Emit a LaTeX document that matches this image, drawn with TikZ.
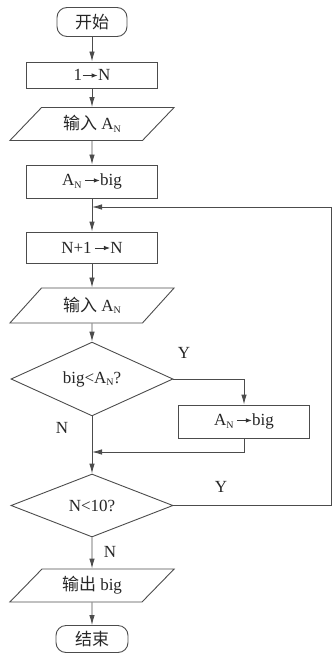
\documentclass[tikz,border=0pt]{standalone}
\usepackage{fontspec}
\setmainfont{Liberation Serif}
\newfontfamily\cjk{Noto Sans CJK SC}
\usetikzlibrary{shapes.geometric,arrows.meta}
\newcommand{\sN}{\raisebox{-0.15em}{\fontsize{10}{10}\selectfont N}}
\newcommand{\ra}{\tikz[baseline={(0pt,-0.3em)}]\draw[black!80, line width=0.8pt, -{Latex[length=6pt,width=4.5pt]}] (0pt,0pt) -- (15pt,0pt);}
\begin{document}
\begin{tikzpicture}[x=1pt,y=-1pt,
  every node/.style={font=\fontsize{17}{19}\selectfont, text=black!85},
  line/.style={draw=black!70, line width=0.9pt},
  arr/.style={line, -{Latex[length=10pt,width=5.5pt]}},
  term/.style={line, rectangle, rounded corners=10pt, minimum width=70pt, minimum height=29pt, inner sep=0pt},
  proc/.style={line, rectangle, minimum width=131pt, minimum height=31pt, inner sep=0pt},
  io/.style={line, trapezium, trapezium left angle=43, trapezium right angle=137, trapezium stretches=true, minimum width=165pt, minimum height=33pt, inner sep=0pt},
  dec/.style={line, diamond, minimum width=162pt, minimum height=63pt, inner sep=0pt},
  lbl/.style={inner sep=0pt}]
\useasboundingbox (0,0) rectangle (333,655);
\node[term] (start) at (92,22) {\cjk 开始};
\node[proc, minimum height=26pt] (b1) at (92,75) {1\ra N};
\node[io] (in1) at (92,124) {{\cjk 输入} A\sN};
\node[proc, minimum height=33pt] (b2) at (92,181.5) {A\sN\,\ra big};
\coordinate (j1) at (92,207);
\node[proc] (b3) at (92,247.5) {N+1\,\ra N};
\node[io, minimum height=35pt] (in2) at (92,305.5) {{\cjk 输入} A\sN};
\node[dec] (d1) at (92,379) {big<A\sN?};
\node[proc, minimum height=33pt] (b4) at (244,421.5) {A\sN\,\ra big};
\coordinate (j2) at (92,452);
\node[dec] (d2) at (92,505.5) {N<10?};
\coordinate (rc) at (331,207);
\node[io] (out) at (92,585.5) {{\cjk 输出} big};
\node[term, minimum height=27pt, minimum width=72pt] (end) at (92,639) {\cjk 结束};

\draw[arr] (start) -- (b1);
\draw[arr] (b1) -- (in1);
\draw[arr] (in1) -- (b2);
\draw[arr] (b2) -- (b3);
\draw[arr] (b3) -- (in2);
\draw[arr] (in2) -- (d1);
\draw[arr] (d1.east) -| (b4.north);
\draw[arr] (d1.south) -- (d2.north);
\draw[arr] (b4.south) |- (j2);
\draw[arr] (d2.east) -| (rc) -- (j1);
\draw[arr] (d2.south) -- (out.north);
\draw[arr] (out) -- (end);

\node[lbl] (y1) at (184,353) {Y};
\node[lbl] (n1) at (62,428) {N};
\node[lbl] (y2) at (221,487) {Y};
\node[lbl] (n2) at (110,552) {N};
\end{tikzpicture}
\end{document}
